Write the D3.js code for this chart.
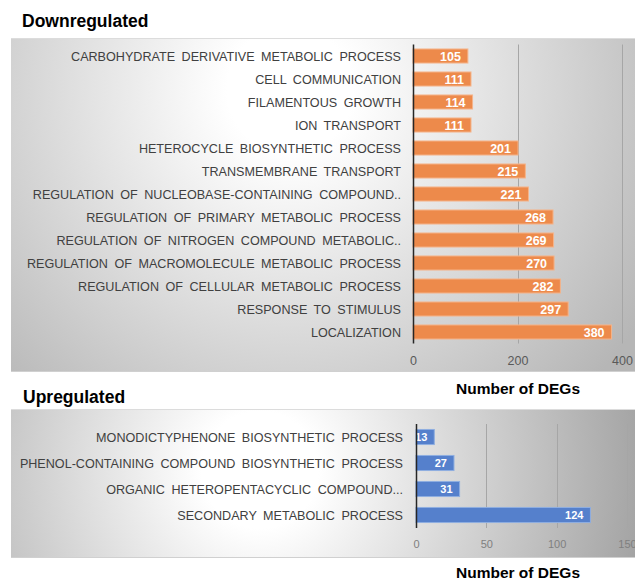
<!DOCTYPE html>
<html><head><meta charset="utf-8">
<script src="https://cdn.jsdelivr.net/npm/d3@7"></script>
<style>
body{margin:0;background:#fff;}
svg{display:block;font-family:Arial,"Liberation Sans",sans-serif;}
</style></head><body>
<svg id="c" width="635" height="583"></svg>
<script>
const downCategories = [
  "CARBOHYDRATE DERIVATIVE METABOLIC PROCESS",
  "CELL COMMUNICATION",
  "FILAMENTOUS GROWTH",
  "ION TRANSPORT",
  "HETEROCYCLE BIOSYNTHETIC PROCESS",
  "TRANSMEMBRANE TRANSPORT",
  "REGULATION OF NUCLEOBASE-CONTAINING COMPOUND..",
  "REGULATION OF PRIMARY METABOLIC PROCESS",
  "REGULATION OF NITROGEN COMPOUND METABOLIC..",
  "REGULATION OF MACROMOLECULE METABOLIC PROCESS",
  "REGULATION OF CELLULAR METABOLIC PROCESS",
  "RESPONSE TO STIMULUS",
  "LOCALIZATION"
];
const downValues = [105,111,114,111,201,215,221,268,269,270,282,297,380];
const downTicks = [0,200,400];

const upCategories = [
  "MONODICTYPHENONE BIOSYNTHETIC PROCESS",
  "PHENOL-CONTAINING COMPOUND BIOSYNTHETIC PROCESS",
  "ORGANIC HETEROPENTACYCLIC COMPOUND...",
  "SECONDARY METABOLIC PROCESS"
];
const upValues = [13,27,31,124];
const upTicks = [0,50,100,150];

const titles = ["Downregulated","Upregulated"];
const axisTitle = "Number of DEGs";

const svg = d3.select("#c");
const defs = svg.append("defs");

function grad(id, cx, cy, r, c1, c2){
  const g = defs.append("radialGradient").attr("id",id)
    .attr("gradientUnits","userSpaceOnUse")
    .attr("cx",cx).attr("cy",cy).attr("r",r);
  g.append("stop").attr("offset","0").attr("stop-color",c1);
  g.append("stop").attr("offset","0.15").attr("stop-color",c1);
  g.append("stop").attr("offset","1").attr("stop-color",c2);
}
grad("g1", 290, 90, 420, "#ffffff", "#b6b6b6");
grad("g2", 260, 470, 390, "#ffffff", "#a2a2a2");

function panel(opts){
  const {cats, vals, ticks, domainMax, x0, x1, yTop, yBot, pad, color, stroke,
         bgId, rect, labelX, catFont, tickFont, tickColor, tickY, valFont, clipPrefix} = opts;
  svg.append("rect").attr("x",rect[0]).attr("y",rect[1]).attr("width",rect[2]).attr("height",rect[3])
    .attr("fill",`url(#${bgId})`);
  svg.append("line").attr("x1",rect[0]).attr("x2",rect[0]+rect[2]).attr("y1",rect[1]+0.5).attr("y2",rect[1]+0.5)
    .attr("stroke","#dcdcdc");
  svg.append("line").attr("x1",rect[0]).attr("x2",rect[0]+rect[2]).attr("y1",rect[1]+rect[3]-0.5).attr("y2",rect[1]+rect[3]-0.5)
    .attr("stroke","#d0d0d0");

  const x = d3.scaleLinear().domain([0,domainMax]).range([x0,x1]);
  const y = d3.scaleBand().domain(cats).range([yTop,yBot]).paddingInner(pad).paddingOuter(pad/2);

  svg.append("g").selectAll("line").data(ticks.filter(t=>t>0)).join("line")
    .attr("x1",d=>Math.round(x(d))+0.5).attr("x2",d=>Math.round(x(d))+0.5)
    .attr("y1",yTop).attr("y2",yBot).attr("stroke","#a6a6a6").attr("stroke-width",1);

  const data = cats.map((c,i)=>({c, v: vals[i], i}));
  svg.append("g").selectAll("rect").data(data).join("rect")
    .attr("x",x(0)).attr("y",d=>y(d.c)).attr("width",d=>x(d.v)-x(0)).attr("height",y.bandwidth())
    .attr("fill",color).attr("stroke",stroke).attr("stroke-width",1);

  data.forEach(d=>{
    defs.append("clipPath").attr("id",clipPrefix+d.i).append("rect")
      .attr("x",x(0)).attr("y",y(d.c)).attr("width",x(d.v)-x(0)).attr("height",y.bandwidth());
  });
  svg.append("g").selectAll("text").data(data).join("text")
    .attr("clip-path",d=>`url(#${clipPrefix}${d.i})`)
    .attr("x",d=>x(d.v)-7).attr("y",d=>y(d.c)+y.bandwidth()/2).attr("dy","0.36em")
    .attr("text-anchor","end").attr("fill","#fff").attr("font-weight","bold")
    .attr("font-size",valFont).text(d=>d.v);

  svg.append("g").selectAll("text").data(data).join("text")
    .attr("x",labelX).attr("y",d=>y(d.c)+y.bandwidth()/2).attr("dy","0.36em")
    .attr("text-anchor","end").attr("fill","#404040").attr("font-size",catFont)
    .attr("word-spacing","3px").text(d=>d.c);

  svg.append("line").attr("x1",Math.round(x(0))+0.5).attr("x2",Math.round(x(0))+0.5)
    .attr("y1",yTop).attr("y2",yBot).attr("stroke","#262626").attr("stroke-width",1.5);

  const ax = d3.axisBottom(x).tickValues(ticks).tickSize(0).tickPadding(0);
  const g = svg.append("g").attr("transform",`translate(0,${tickY})`).call(ax);
  g.select(".domain").remove();
  g.selectAll("text").attr("fill",tickColor).attr("font-size",tickFont)
    .attr("font-family","Arial,'Liberation Sans',sans-serif").attr("dy","0.36em").attr("y",0);
  return {x,y};
}

panel({cats:downCategories, vals:downValues, ticks:downTicks, domainMax:400,
  x0:413, x1:622, yTop:44.5, yBot:343.5, pad:0.39, color:"#ED8A4B", stroke:"#F5B48A",
  bgId:"g1", rect:[11,38,624,334], labelX:401, catFont:12.6, tickFont:12.5, tickColor:"#595959",
  tickY:360, valFont:12.5, clipPrefix:"cd"});

panel({cats:upCategories, vals:upValues, ticks:upTicks, domainMax:150,
  x0:416, x1:627, yTop:424, yBot:528, pad:0.42, color:"#5580CC", stroke:"#8FAEE0",
  bgId:"g2", rect:[11,409,624,149], labelX:403, catFont:12.6, tickFont:11, tickColor:"#7f7f7f",
  tickY:544, valFont:11, clipPrefix:"cu"});

svg.append("text").attr("x",22).attr("y",27).attr("font-weight","bold").attr("font-size",17.5)
  .attr("fill","#000").text(titles[0]);
svg.append("text").attr("x",23).attr("y",403).attr("font-weight","bold").attr("font-size",17.5)
  .attr("fill","#000").text(titles[1]);
svg.append("text").attr("x",518).attr("y",394).attr("text-anchor","middle").attr("font-weight","bold")
  .attr("font-size",15.5).attr("fill","#000").text(axisTitle);
svg.append("text").attr("x",518).attr("y",578).attr("text-anchor","middle").attr("font-weight","bold")
  .attr("font-size",15.5).attr("fill","#000").text(axisTitle);
</script>
</body></html>
